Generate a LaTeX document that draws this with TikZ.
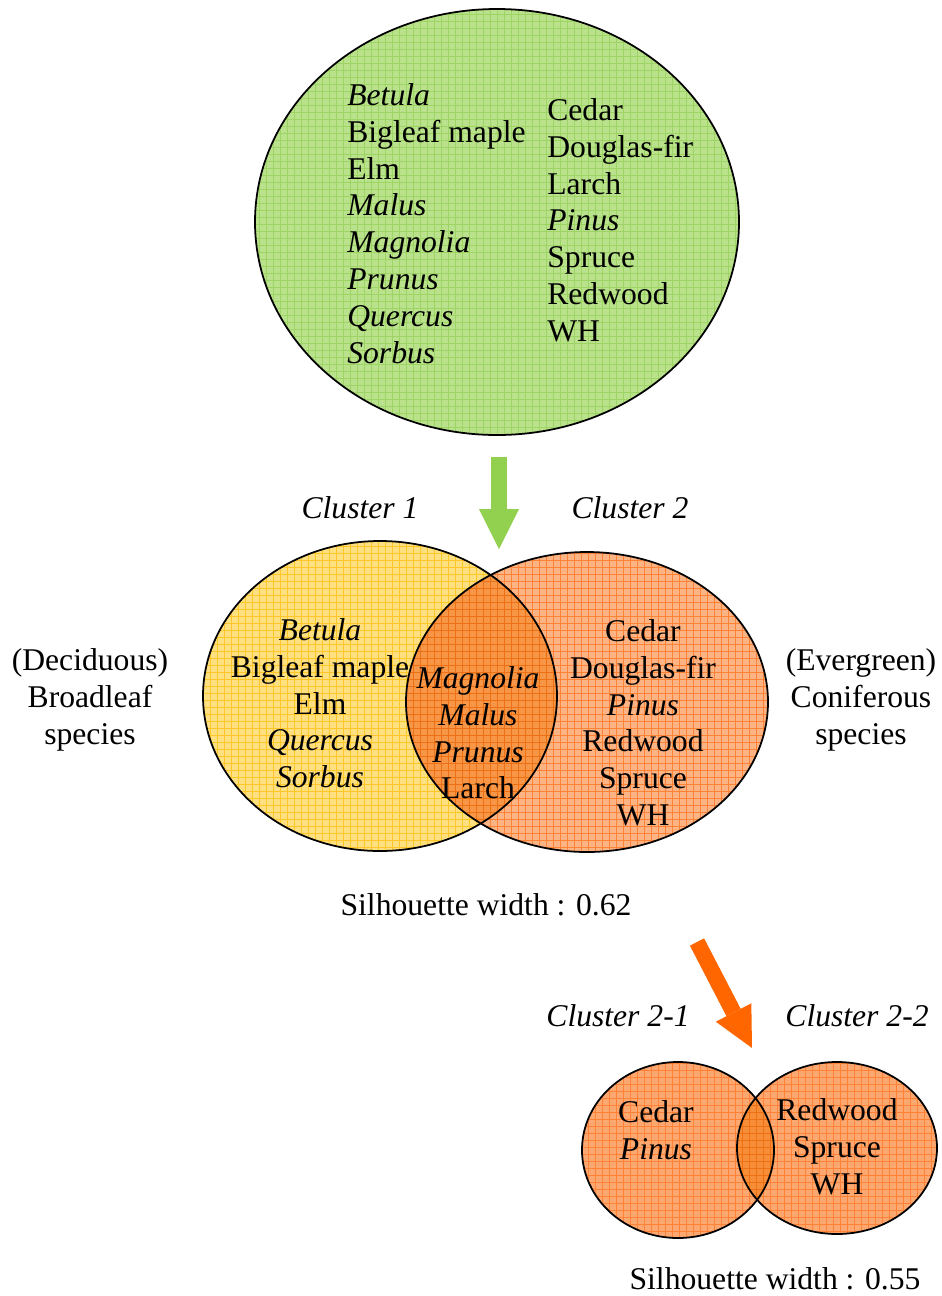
\documentclass[tikz,border=0pt]{standalone}
\usepackage{fontspec}
\setmainfont{Liberation Serif}
\usetikzlibrary{arrows.meta}
\definecolor{allgreen}{RGB}{186,226,140}
\definecolor{allgreengrid}{RGB}{158,212,100}
\definecolor{broadyellow}{RGB}{255,224,128}
\definecolor{broadyellowgrid}{RGB}{255,198,40}
\definecolor{conifer}{RGB}{252,180,132}
\definecolor{conifergrid}{RGB}{255,130,55}
\definecolor{shared}{RGB}{246,150,70}
\definecolor{sharedgrid}{RGB}{238,112,20}
\definecolor{arrowgreen}{RGB}{146,208,80}
\definecolor{arroworange}{RGB}{255,102,0}

% filled ellipse with a fine grid: centre, radii, fill, grid colour
\newcommand{\gridblob}[4]{%
  \begin{scope}
    \clip (#1) ellipse [#2];
    \fill[#3] (#1) ellipse [#2];
    \draw[#4, line width=0.35pt, step=0.14cm] (0,0) grid (941,1296);
  \end{scope}}

\begin{document}
\begin{tikzpicture}[x=0.02cm, y=-0.02cm, font=\fontsize{18}{21}\selectfont,
  spp/.style={inner sep=0pt, align=left},
  sppc/.style={inner sep=0pt, align=center},
  blockarrow/.style={draw=#1, line width=0.32cm, -{Triangle[length=0.8cm, width=0.8cm, line width=0pt]}}]
\useasboundingbox (0,0) rectangle (941,1296);

% All species
\coordinate (allspp) at (497,222);
\gridblob{allspp}{x radius=242, y radius=213}{allgreen}{allgreengrid}
\draw[line width=1pt] (allspp) ellipse [x radius=242, y radius=213];
\node[spp, anchor=north west] (broadall) at (347,83) {\textit{Betula}\\Bigleaf maple\\Elm\\\textit{Malus}\\\textit{Magnolia}\\\textit{Prunus}\\\textit{Quercus}\\\textit{Sorbus}};
\node[spp, anchor=north west] (conall) at (547,98) {Cedar\\Douglas-fir\\Larch\\\textit{Pinus}\\Spruce\\Redwood\\WH};

% First split
\coordinate (split1) at (499,457);
\coordinate (split1end) at (499,549);
\draw[blockarrow=arrowgreen] (split1) -- (split1end);

\coordinate (c1) at (380,696);
\coordinate (c2) at (587,702);
\gridblob{c1}{x radius=177, y radius=155}{broadyellow}{broadyellowgrid}
\gridblob{c2}{x radius=181, y radius=150}{conifer}{conifergrid}
\begin{scope}
  \clip (c1) ellipse [x radius=177, y radius=155];
  \gridblob{c2}{x radius=181, y radius=150}{shared}{sharedgrid}
\end{scope}
\draw[line width=1pt] (c1) ellipse [x radius=177, y radius=155];
\draw[line width=1pt] (c2) ellipse [x radius=181, y radius=150];

\node[anchor=base, inner sep=0pt] (lab1) at (360,518) {\textit{Cluster 1}};
\node[anchor=base, inner sep=0pt] (lab2) at (630,518) {\textit{Cluster 2}};
\node[sppc, anchor=north] (broad1) at (320,618) {\textit{Betula}\\Bigleaf maple\\Elm\\\textit{Quercus}\\\textit{Sorbus}};
\node[sppc, anchor=north] (shared12) at (478,666) {\textit{Magnolia}\\\textit{Malus}\\\textit{Prunus}\\Larch};
\node[sppc, anchor=north] (con2) at (643,619) {Cedar\\Douglas-fir\\\textit{Pinus}\\Redwood\\Spruce\\WH};
\node[sppc, anchor=north] (decid) at (90,648) {(Deciduous)\\Broadleaf\\species};
\node[sppc, anchor=north] (everg) at (861,648) {(Evergreen)\\Coniferous\\species};
\node[anchor=base, inner sep=0pt] (sil1) at (486,915) {Silhouette width : 0.62};

% Second split
\coordinate (split2) at (697,942);
\coordinate (split2end) at (752,1048);
\draw[blockarrow=arroworange] (split2) -- (split2end);

\coordinate (c21) at (678,1150);
\coordinate (c22) at (837,1148);
\gridblob{c21}{x radius=96, y radius=88}{conifer!85!arroworange}{conifergrid}
\gridblob{c22}{x radius=100, y radius=86}{conifer!85!arroworange}{conifergrid}
\begin{scope}
  \clip (c21) ellipse [x radius=96, y radius=88];
  \gridblob{c22}{x radius=100, y radius=86}{shared!80!arroworange}{sharedgrid}
\end{scope}
\draw[line width=1pt] (c21) ellipse [x radius=96, y radius=88];
\draw[line width=1pt] (c22) ellipse [x radius=100, y radius=86];

\node[anchor=base, inner sep=0pt] (lab21) at (618,1026) {\textit{Cluster 2-1}};
\node[anchor=base, inner sep=0pt] (lab22) at (857,1026) {\textit{Cluster 2-2}};
\node[sppc, anchor=north] (con21) at (656,1100) {Cedar\\\textit{Pinus}};
\node[sppc, anchor=north] (con22) at (837,1098) {Redwood\\Spruce\\WH};
\node[anchor=base, inner sep=0pt] (sil2) at (775,1289) {Silhouette width : 0.55};
\end{tikzpicture}
\end{document}
